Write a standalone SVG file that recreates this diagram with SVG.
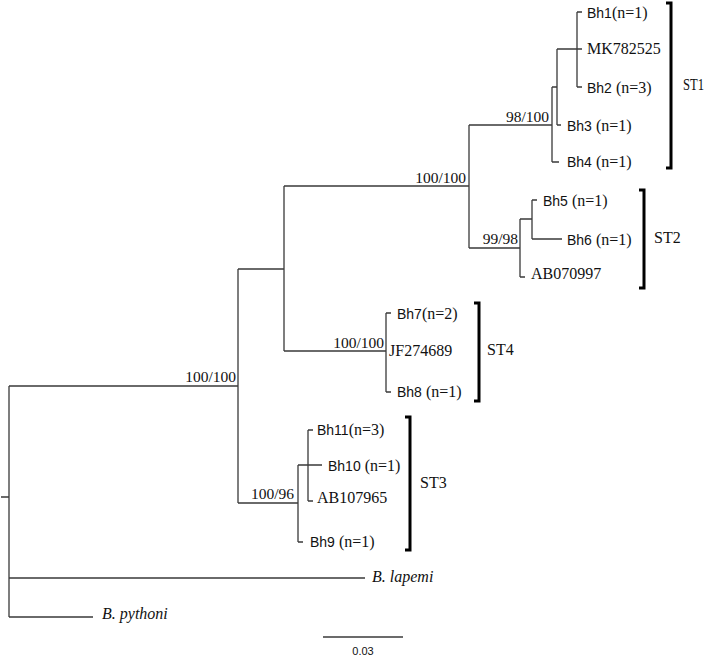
<svg xmlns="http://www.w3.org/2000/svg" width="709" height="656" viewBox="0 0 709 656">
<style>
.br{fill:none;stroke:#3a3a3a;stroke-width:1.3}
.bk{fill:none;stroke:#000;stroke-width:3}
.s{font-family:"Liberation Sans",Arial,sans-serif;font-size:14px;fill:#111}
.t{font-family:"Liberation Serif","Times New Roman",serif;font-size:16px;fill:#111}
.sup{font-family:"Liberation Serif","Times New Roman",serif;font-size:15.5px;fill:#111;text-anchor:end}
.it{font-style:italic}
.sc{font-family:"Liberation Sans",Arial,sans-serif;font-size:11px;fill:#111;text-anchor:middle}
</style>
<rect width="709" height="656" fill="#fff"/>
<g id="connectors">
<path class="br" d="M1,497H9M9,386V617M9,386H238M238,269V503M238,269H284M284,186V351M284,186H469M469,125V248M469,125H552M552,87V162M552,87H557M552,162H559M557,49V125M557,125H561M557,49H577M577,12V87M577,12H582M577,49H582M577,87H582"/>
<path class="br" d="M469,248H520M520,219V277M520,219H532M520,277H525M532,200V239M532,200H537M532,239H562"/>
<path class="br" d="M284,351H386M386,313V392M386,313H391M386,392H391"/>
<path class="br" d="M238,503H298M298,465V542M298,465H322M308,430V501M308,430H313M308,501H313M298,542H303"/>
<path class="br" d="M9,578H365M9,617H93"/>
</g>
<g id="support">
<text class="sup" x="236" y="382">100/100</text>
<text class="sup" x="466" y="183">100/100</text>
<text class="sup" x="549" y="122">98/100</text>
<text class="sup" x="518" y="244">99/98</text>
<text class="sup" x="384" y="348">100/100</text>
<text class="sup" x="294" y="499">100/96</text>
</g>
<g id="ST1">
<text x="587" y="18"><tspan class="s">Bh1</tspan><tspan class="t">(n=1)</tspan></text>
<text class="t" x="587" y="54">MK782525</text>
<text x="587" y="93"><tspan class="s">Bh2</tspan><tspan class="t"> (n=3)</tspan></text>
<text x="567" y="131"><tspan class="s">Bh3</tspan><tspan class="t"> (n=1)</tspan></text>
<text x="567" y="167"><tspan class="s">Bh4</tspan><tspan class="t"> (n=1)</tspan></text>
<path class="bk" d="M666,3H671V168H666"/>
<text class="t" x="683" y="90" textLength="21" lengthAdjust="spacingAndGlyphs">ST1</text>
</g>
<g id="ST2">
<text x="543" y="206"><tspan class="s">Bh5</tspan><tspan class="t"> (n=1)</tspan></text>
<text x="567" y="245"><tspan class="s">Bh6</tspan><tspan class="t"> (n=1)</tspan></text>
<text class="t" x="531" y="279">AB070997</text>
<path class="bk" d="M639,190H644V288H639"/>
<text class="t" x="654" y="243">ST2</text>
</g>
<g id="ST4">
<text x="397" y="319"><tspan class="s">Bh7</tspan><tspan class="t">(n=2)</tspan></text>
<text class="t" x="389" y="356">JF274689</text>
<text x="397" y="397"><tspan class="s">Bh8</tspan><tspan class="t"> (n=1)</tspan></text>
<path class="bk" d="M474,303H479V401H474"/>
<text class="t" x="487" y="355">ST4</text>
</g>
<g id="ST3">
<text x="317" y="435"><tspan class="s">Bh11</tspan><tspan class="t">(n=3)</tspan></text>
<text x="328" y="471"><tspan class="s">Bh10</tspan><tspan class="t"> (n=1)</tspan></text>
<text class="t" x="317" y="503">AB107965</text>
<text x="310" y="547"><tspan class="s">Bh9</tspan><tspan class="t"> (n=1)</tspan></text>
<path class="bk" d="M405,417H410V550H405"/>
<text class="t" x="420" y="488">ST3</text>
</g>
<g id="outgroups">
<text class="t it" x="372" y="582">B. lapemi</text>
<text class="t it" x="102" y="619">B. pythoni</text>
</g>
<g id="scale">
<path class="br" d="M323,637H403"/>
<text class="sc" x="363" y="655">0.03</text>
</g>
</svg>
